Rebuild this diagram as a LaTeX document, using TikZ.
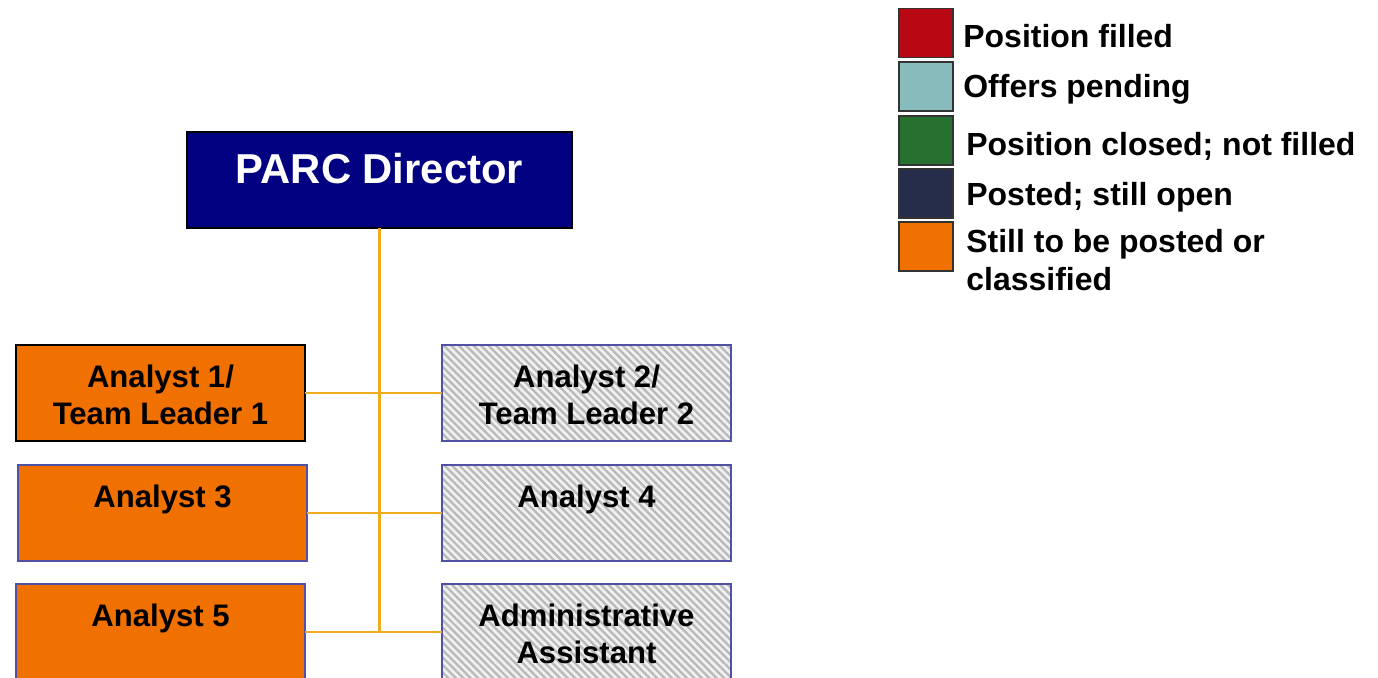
\documentclass[tikz,border=0pt]{standalone}
\usepackage{fontspec}
\setmainfont{Liberation Sans}
\usepackage{xcolor}
\usepackage{tikz}
\usetikzlibrary{patterns.meta}

\definecolor{dirnavy}{RGB}{0,0,128}
\definecolor{vacorange}{RGB}{240,112,0}
\definecolor{linkyellow}{RGB}{240,172,30}
\definecolor{edgeblue}{RGB}{80,80,165}
\definecolor{fillred}{RGB}{184,8,20}
\definecolor{pendteal}{RGB}{136,187,187}
\definecolor{closedgreen}{RGB}{38,112,48}
\definecolor{opennavy}{RGB}{38,45,74}

\begin{document}
\begin{tikzpicture}[x=0.02cm, y=-0.02cm,
  post/.style={line width=1.1pt, inner sep=0pt, outer sep=0pt,
    minimum width=5.78cm, minimum height=1.92cm, align=center,
    text height=36.3pt, text depth=0pt,
    font=\fontsize{17.7}{21.5}\selectfont\bfseries},
  vacant/.style={post, fill=vacorange, draw=edgeblue},
  hatched/.style={post, preaction={fill=gray!12}, draw=edgeblue,
    pattern={Lines[angle=-45, distance=3pt, line width=1.3pt]},
    pattern color=gray!55},
  dirbox/.style={draw=black, line width=1.1pt, fill=dirnavy, text=white,
    inner sep=0pt, outer sep=0pt, minimum width=7.7cm, minimum height=1.92cm,
    text height=18pt, text depth=13.5pt,
    font=\fontsize{23.8}{28}\selectfont\bfseries},
  link/.style={draw=linkyellow, line width=1.6pt},
  legsq/.style={draw=black!80, line width=1pt, inner sep=0pt,
    minimum width=1.08cm, minimum height=0.98cm},
  legtext/.style={anchor=base west, align=left, inner sep=0pt,
    font=\fontsize{18.2}{21.5}\selectfont\bfseries}]

\clip (0,0) rectangle (1378,677);

% =====================
% Director
% =====================
\node[dirbox] (dir) at (379.5,180) {PARC Director};

% =====================
% Analysts, left column
% =====================
\node[vacant, draw=black] (an1) at (160.5,393) {Analyst 1/\\Team Leader 1};
\node[vacant] (an3) at (162.5,513) {Analyst 3\\~};
\node[vacant] (an5) at (160.5,632) {Analyst 5\\~};

% =====================
% Analysts, right column
% =====================
\node[hatched] (an2) at (586.5,393) {Analyst 2/\\Team Leader 2};
\node[hatched] (an4) at (586.5,513) {Analyst 4\\~};
\node[hatched] (adm) at (586.5,632) {Administrative\\Assistant};

% =====================
% Reporting lines
% =====================
\coordinate (trunk) at (379.5,632);
\draw[link] (dir.south) -- (trunk);
\draw[link] (an1.east) -- (an2.west);
\draw[link] (an3.east) -- (an4.west);
\draw[link] (an5.east) -- (adm.west);

% =====================
% Legend
% =====================
\node[legsq, fill=fillred] (kfilled) at (926,33) {};
\node[legsq, fill=pendteal] (kpending) at (926,86.5) {};
\node[legsq, fill=closedgreen] (kclosed) at (926,140.5) {};
\node[legsq, fill=opennavy] (kopen) at (926,193.5) {};
\node[legsq, fill=vacorange] (kposted) at (926,246.5) {};

\node[legtext] (tfilled) at (963,47) {Position filled};
\node[legtext] (tpending) at (963,97) {Offers pending};
\node[legtext] (tclosed) at (966,155) {Position closed; not filled};
\node[legtext] (topen) at (966,205) {Posted; still open};
\node[legtext] (tposted) at (966,290) {Still to be posted or\\classified};
\end{tikzpicture}
\end{document}
